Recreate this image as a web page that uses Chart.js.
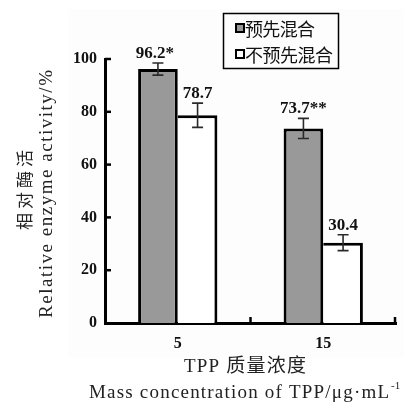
<!DOCTYPE html>
<html>
<head>
<meta charset="utf-8">
<script src="https://cdn.jsdelivr.net/npm/chart.js@4/dist/chart.umd.min.js"></script>
<style>
  html, body { margin: 0; padding: 0; background: #ffffff; }
  #wrap { width: 404px; height: 402px; position: relative; }
</style>
</head>
<body>
<div id="wrap"><canvas id="c" width="404" height="402"></canvas></div>
<script>
// TPP concentration groups
const categories = ['5', '15'];
// Relative enzyme activity (%) for each mixing mode
const premixedValues = [96.2, 73.7];
const notPremixedValues = [78.7, 30.4];
// Standard deviations
const premixedErrors = [2.3, 3.8];
const notPremixedErrors = [4.6, 3.0];
// Significance marks appended to the value labels
const premixedMarks = ['*', '**'];
const notPremixedMarks = ['', ''];
// Y axis ticks
const yTicks = [0, 20, 40, 60, 80, 100];

const seriesNames = ['预先混合', '不预先混合'];
const yTitleCn = '相对酶活';
const yTitleEn = 'Relative enzyme activity/%';
const xTitleCn = 'TPP 质量浓度';
const xTitleEn = 'Mass concentration of TPP/μg·mL';
const xTitleSup = '-1';

const SERIF = '"Liberation Serif", "Times New Roman", serif';
const CJK = '"Liberation Serif", "Noto Sans CJK SC", serif';

// draw text spread evenly over a given width (left edge at x)
function drawSpaced(ctx, text, x, y, width) {
  const chars = Array.from(text);
  let natural = 0;
  const w = chars.map(ch => { const m = ctx.measureText(ch).width; natural += m; return m; });
  const gap = chars.length > 1 ? (width - natural) / (chars.length - 1) : 0;
  ctx.textAlign = 'left';
  let cx = x;
  chars.forEach((ch, i) => { ctx.fillText(ch, cx, y); cx += w[i] + gap; });
}

const decorations = {
  id: 'decorations',
  beforeDraw(chart) {
    const ctx = chart.ctx;
    ctx.save();
    ctx.fillStyle = '#fdfdfd';
    ctx.fillRect(68, 9, 336, 349);
    ctx.restore();
  },
  afterDatasetsDraw(chart) {
    const ctx = chart.ctx;
    const ys = chart.scales.y;
    const area = chart.chartArea;
    ctx.save();

    // inward tick marks on the y axis
    ctx.strokeStyle = '#000';
    ctx.lineWidth = 2.5;
    yTicks.forEach(v => {
      if (v === 0) return;
      const py = ys.getPixelForValue(v);
      ctx.beginPath();
      ctx.moveTo(area.left, py);
      ctx.lineTo(area.left + 6, py);
      ctx.stroke();
    });
    // inward tick marks on the x axis at group boundaries
    for (let i = 1; i <= categories.length; i++) {
      const px = area.left + (area.right - area.left) * i / categories.length - (i === categories.length ? 1 : 0);
      ctx.beginPath();
      ctx.moveTo(px, area.bottom);
      ctx.lineTo(px, area.bottom - 6);
      ctx.stroke();
    }

    // error bars and value labels
    const sets = [
      { vals: premixedValues, errs: premixedErrors, marks: premixedMarks },
      { vals: notPremixedValues, errs: notPremixedErrors, marks: notPremixedMarks }
    ];
    sets.forEach((s, di) => {
      const meta = chart.getDatasetMeta(di);
      meta.data.forEach((bar, i) => {
        const cx = bar.x;
        const top = ys.getPixelForValue(s.vals[i] + s.errs[i]);
        const bot = ys.getPixelForValue(s.vals[i] - s.errs[i]);
        ctx.strokeStyle = '#2a2a2a';
        ctx.lineWidth = 1.6;
        ctx.beginPath();
        ctx.moveTo(cx, top); ctx.lineTo(cx, bot);
        ctx.moveTo(cx - 5.5, top); ctx.lineTo(cx + 5.5, top);
        ctx.moveTo(cx - 5.5, bot); ctx.lineTo(cx + 5.5, bot);
        ctx.stroke();

        ctx.fillStyle = '#111';
        ctx.font = 'bold 17px ' + SERIF;
        ctx.textAlign = 'center';
        ctx.textBaseline = 'alphabetic';
        ctx.fillText(s.vals[i].toFixed(1) + s.marks[i], cx - (s.marks[i] === '*' ? 3 : 0), top - 5);
      });
    });

    // legend
    ctx.strokeStyle = '#000';
    ctx.lineWidth = 1.5;
    ctx.strokeRect(223.5, 13.5, 115, 55);
    const fills = ['#999999', '#ffffff'];
    const rowsY = [28, 54];
    seriesNames.forEach((name, i) => {
      ctx.fillStyle = fills[i];
      ctx.fillRect(236, rowsY[i] - 4, 8, 8);
      ctx.lineWidth = 2;
      ctx.strokeStyle = '#000';
      ctx.strokeRect(236, rowsY[i] - 4, 8, 8);
      ctx.fillStyle = '#111';
      ctx.font = '18px "Noto Sans CJK SC"';
      ctx.textBaseline = 'middle';
      drawSpaced(ctx, name, 245, rowsY[i] + 1, name.length === 4 ? 70 : 88);
    });

    // y axis titles (rotated)
    ctx.fillStyle = '#222';
    ctx.textBaseline = 'middle';
    ctx.save();
    ctx.translate(25, 190);
    ctx.rotate(-Math.PI / 2);
    ctx.font = '17px "Noto Sans CJK SC"';
    drawSpaced(ctx, yTitleCn, -40, 0, 80);
    ctx.restore();
    ctx.save();
    ctx.translate(47, 194);
    ctx.rotate(-Math.PI / 2);
    ctx.font = '19px ' + SERIF;
    drawSpaced(ctx, yTitleEn, -124, 0, 248);
    ctx.restore();

    // x axis titles
    ctx.font = '19px ' + CJK;
    ctx.textBaseline = 'middle';
    drawSpaced(ctx, xTitleCn, 184, 367, 122);
    ctx.font = '19px ' + SERIF;
    drawSpaced(ctx, xTitleEn, 89, 393, 300);
    ctx.font = '11px ' + SERIF;
    ctx.textAlign = 'left';
    ctx.fillText(xTitleSup, 391, 386);

    ctx.restore();
  }
};

new Chart(document.getElementById('c'), {
  type: 'bar',
  data: {
    labels: categories,
    datasets: [
      {
        label: seriesNames[0],
        data: premixedValues,
        backgroundColor: '#999999',
        borderColor: '#000000',
        borderWidth: { top: 3, left: 3, right: 3, bottom: 0 },
        borderSkipped: false
      },
      {
        label: seriesNames[1],
        data: notPremixedValues,
        backgroundColor: '#ffffff',
        borderColor: '#000000',
        borderWidth: { top: 3, left: 0, right: 3, bottom: 0 },
        borderSkipped: false
      }
    ]
  },
  options: {
    responsive: false,
    animation: false,
    devicePixelRatio: 1,
    layout: { padding: { top: 59, right: 8, bottom: 0, left: 0 } },
    plugins: {
      legend: { display: false },
      tooltip: { enabled: false }
    },
    datasets: {
      bar: { categoryPercentage: 0.545, barPercentage: 1.0 }
    },
    scales: {
      x: {
        grid: { display: false, drawTicks: false },
        border: { display: true, color: '#000', width: 3 },
        ticks: {
          color: '#111',
          font: { family: SERIF, size: 16, weight: 'bold' },
          padding: 11
        },
        afterFit(scale) { scale.height = 79; }
      },
      y: {
        min: 0,
        max: 100,
        grid: { display: false, drawTicks: false },
        border: { display: true, color: '#000', width: 3 },
        ticks: {
          stepSize: 20,
          color: '#111',
          font: { family: SERIF, size: 16, weight: 'bold' },
          padding: 8
        },
        afterFit(scale) { scale.width = 105; }
      }
    }
  },
  plugins: [decorations]
});
</script>
</body>
</html>
